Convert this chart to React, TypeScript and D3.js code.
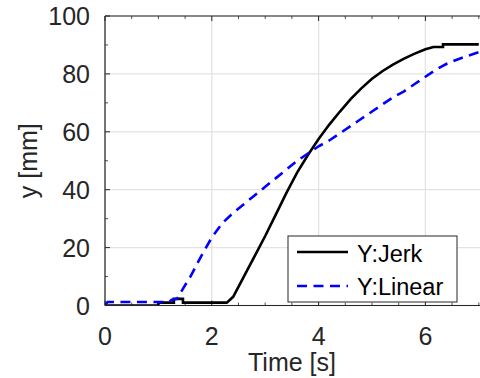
import React from "react";
import * as d3 from "d3";

const timeJerk = [0, 1.0, 1.0, 1.29, 1.29, 1.46, 1.46, 2.28, 2.4, 2.6, 2.8, 3.0, 3.2, 3.4, 3.6, 3.8, 4.0, 4.2, 4.4, 4.6, 4.8, 5.0, 5.2, 5.4, 5.6, 5.8, 6.0, 6.15, 6.33, 6.33, 7.0];
const yJerk = [0, 0, 1, 1, 2.3, 2.3, 1, 1, 3, 10, 17, 24, 31.5, 39, 46, 52, 57.5, 62.5, 67, 71.3, 75, 78.3, 81, 83.3, 85.3, 87, 88.5, 89.3, 89.3, 90.2, 90.2];

const timeLinear = [0, 0.05, 1.2, 1.25, 1.35, 1.45, 1.6, 1.8, 2.0, 2.2, 2.4, 2.6, 2.8, 3.0, 3.2, 3.4, 3.6, 3.8, 4.0, 4.2, 4.4, 4.6, 4.8, 5.0, 5.2, 5.4, 5.6, 5.8, 6.0, 6.2, 6.4, 6.6, 6.8, 7.0];
const yLinear = [0.3, 1.2, 1.2, 2, 2.3, 5.5, 10, 17, 23.5, 28.5, 32, 35, 38, 41, 44, 47, 50, 52.5, 55, 57, 59.5, 62, 64.5, 67, 69.5, 72, 74, 76.5, 79, 81.5, 83.5, 85, 86.3, 87.5];

const xMajor = [0, 2, 4, 6, 8];
const xLabels = [0, 2, 4, 6];
const xMinor = [0.5, 1, 1.5, 2.5, 3, 3.5, 4.5, 5, 5.5, 6.5, 7, 7.5];
const yMajor = [0, 20, 40, 60, 80, 100];
const yMinor = [10, 30, 50, 70, 90];

const seriesNames = ["Y:Jerk", "Y:Linear"];

export default function App() {
  const W = 480, H = 378;
  const left = 105, top = 16, bottom = 305.5;
  const x = d3.scaleLinear().domain([0, 8]).range([left, left + 8 * 53.4]);
  const y = d3.scaleLinear().domain([0, 100]).range([bottom, top]);
  const right = x(8);
  const axisColor = "#262626";
  const font = "'Liberation Sans', Arial, Helvetica, sans-serif";

  const line = d3.line<number>().x((d: any) => x(d[0])).y((d: any) => y(d[1])) as any;
  const jerkPts = timeJerk.map((t, i) => [t, yJerk[i]]);
  const linPts = timeLinear.map((t, i) => [t, yLinear[i]]);

  const majLen = 5, minLen = 3;

  return (
    <svg width={W} height={H} style={{ position: "absolute", left: 0, top: 0, background: "#fff" }} fontFamily={font}>
      <rect x={0} y={0} width={W} height={H} fill="#fff" />
      <defs>
        <clipPath id="plotclip">
          <rect x={left} y={top} width={right - left} height={bottom - top} />
        </clipPath>
      </defs>
      {xMajor.map((v) => (
        <line key={"gx" + v} x1={x(v)} x2={x(v)} y1={top} y2={bottom} stroke="#e3e3e3" strokeWidth={1.3} />
      ))}
      {yMajor.map((v) => (
        <line key={"gy" + v} x1={left} x2={right} y1={y(v)} y2={y(v)} stroke="#e3e3e3" strokeWidth={1.3} />
      ))}
      {xMajor.map((v) => (
        <g key={"tx" + v}>
          <line x1={x(v)} x2={x(v)} y1={bottom} y2={bottom - majLen} stroke={axisColor} strokeWidth={1} />
          <line x1={x(v)} x2={x(v)} y1={top} y2={top + majLen} stroke={axisColor} strokeWidth={1} />
        </g>
      ))}
      {xMinor.map((v) => (
        <g key={"mx" + v}>
          <line x1={x(v)} x2={x(v)} y1={bottom} y2={bottom - minLen} stroke={axisColor} strokeWidth={0.8} />
          <line x1={x(v)} x2={x(v)} y1={top} y2={top + minLen} stroke={axisColor} strokeWidth={0.8} />
        </g>
      ))}
      {yMajor.map((v) => (
        <line key={"ty" + v} x1={left} x2={left + majLen} y1={y(v)} y2={y(v)} stroke={axisColor} strokeWidth={1} />
      ))}
      {yMinor.map((v) => (
        <line key={"my" + v} x1={left} x2={left + minLen} y1={y(v)} y2={y(v)} stroke={axisColor} strokeWidth={0.8} />
      ))}
      <g clipPath="url(#plotclip)">
        <path d={line(jerkPts)} fill="none" stroke="#000" strokeWidth={2.6} strokeLinejoin="miter" />
        <path d={line(linPts)} fill="none" stroke="#0000ff" strokeWidth={2.6} strokeDasharray="10 6.5" />
      </g>
      <line x1={left} x2={right} y1={bottom} y2={bottom} stroke={axisColor} strokeWidth={1.2} />
      <line x1={left} x2={right} y1={top} y2={top} stroke={axisColor} strokeWidth={1.2} />
      <line x1={left} x2={left} y1={top} y2={bottom} stroke={axisColor} strokeWidth={1.2} />
      <line x1={right} x2={right} y1={top} y2={bottom} stroke={axisColor} strokeWidth={1.2} />
      {xLabels.map((v) => (
        <text key={"lx" + v} x={x(v)} y={345} textAnchor="middle" fontSize={25} fill={axisColor}>{v}</text>
      ))}
      {yMajor.map((v) => (
        <text key={"ly" + v} x={90} y={y(v) + 9} textAnchor="end" fontSize={25} fill={axisColor}>{v}</text>
      ))}
      <text x={292} y={371} textAnchor="middle" fontSize={25} fill={axisColor}>Time [s]</text>
      <text transform={`translate(37,${(top + bottom) / 2}) rotate(-90)`} textAnchor="middle" fontSize={25} fill={axisColor}>y [mm]</text>
      <rect x={288} y={236} width={169} height={66} fill="#fff" stroke={axisColor} strokeWidth={1} />
      <line x1={297} x2={348} y1={252} y2={252} stroke="#000" strokeWidth={2.6} />
      <line x1={297} x2={348} y1={286} y2={286} stroke="#0000ff" strokeWidth={2.6} strokeDasharray="10 6.5" />
      <text x={357} y={262} fontSize={23.5} fill="#000">{seriesNames[0]}</text>
      <text x={357} y={295} fontSize={23.5} fill="#000">{seriesNames[1]}</text>
    </svg>
  );
}
